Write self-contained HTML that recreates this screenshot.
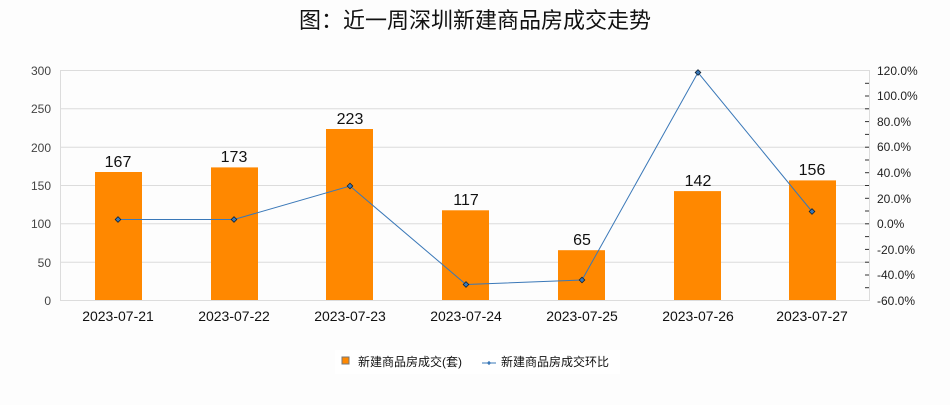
<!DOCTYPE html>
<html><head><meta charset="utf-8"><style>
body{margin:0;background:#fdfdfd;}
svg text{font-family:"Liberation Sans","Noto Sans CJK SC",sans-serif;}
</style></head><body>
<svg width="950" height="400" xmlns="http://www.w3.org/2000/svg">
<rect width="950" height="400" fill="#fdfdfd"/>
<text x="475" y="28" text-anchor="middle" font-size="22" fill="#111" style="font-family:'Noto Sans CJK SC',sans-serif">图：近一周深圳新建商品房成交走势</text>
<g stroke="#dcdcdc" stroke-width="1">
<line x1="60" y1="70.5" x2="870" y2="70.5"/>
<line x1="60" y1="108.8" x2="870" y2="108.8"/>
<line x1="60" y1="147.2" x2="870" y2="147.2"/>
<line x1="60" y1="185.5" x2="870" y2="185.5"/>
<line x1="60" y1="223.8" x2="870" y2="223.8"/>
<line x1="60" y1="262.2" x2="870" y2="262.2"/>
<line x1="60" y1="300.5" x2="870" y2="300.5"/>
<line x1="60.5" y1="70" x2="60.5" y2="300"/>
<line x1="869.5" y1="70" x2="869.5" y2="300"/>
</g>
<g font-size="12" fill="#444" text-anchor="end">
<text x="51" y="75">300</text><text x="51" y="113">250</text><text x="51" y="152">200</text>
<text x="51" y="190">150</text><text x="51" y="228">100</text><text x="51" y="267">50</text><text x="51" y="305">0</text>
</g>
<g stroke="#333" stroke-width="1">
<line x1="865" y1="83.3" x2="869" y2="83.3"/><line x1="865" y1="96" x2="869" y2="96"/>
<line x1="865" y1="108.8" x2="869" y2="108.8"/><line x1="865" y1="121.6" x2="869" y2="121.6"/>
<line x1="865" y1="134.4" x2="869" y2="134.4"/><line x1="865" y1="147.2" x2="869" y2="147.2"/>
<line x1="865" y1="160" x2="869" y2="160"/><line x1="865" y1="172.7" x2="869" y2="172.7"/>
<line x1="865" y1="185.5" x2="869" y2="185.5"/><line x1="865" y1="198.3" x2="869" y2="198.3"/>
<line x1="865" y1="211" x2="869" y2="211"/><line x1="865" y1="223.8" x2="869" y2="223.8"/>
<line x1="865" y1="236.6" x2="869" y2="236.6"/><line x1="865" y1="249.4" x2="869" y2="249.4"/>
<line x1="865" y1="262.2" x2="869" y2="262.2"/><line x1="865" y1="275" x2="869" y2="275"/>
<line x1="865" y1="287.7" x2="869" y2="287.7"/>
</g>
<g font-size="12" fill="#222" text-anchor="start">
<text x="877" y="75">120.0%</text><text x="877" y="100">100.0%</text><text x="877" y="126">80.0%</text>
<text x="877" y="151">60.0%</text><text x="877" y="177">40.0%</text><text x="877" y="203">20.0%</text>
<text x="877" y="228">0.0%</text><text x="877" y="254">-20.0%</text><text x="877" y="279">-40.0%</text><text x="877" y="305">-60.0%</text>
</g>
<g fill="#ff8800">
<rect x="95" y="172" width="47" height="128"/>
<rect x="211" y="167.4" width="47" height="132.6"/>
<rect x="326" y="129" width="47" height="171"/>
<rect x="442" y="210.3" width="47" height="89.7"/>
<rect x="558" y="250.2" width="47" height="49.8"/>
<rect x="674" y="191.1" width="47" height="108.9"/>
<rect x="789" y="180.4" width="47" height="119.6"/>
</g>
<g font-size="16" fill="#111" text-anchor="middle">
<text x="118" y="167">167</text><text x="234" y="162">173</text><text x="350" y="124">223</text>
<text x="466" y="205">117</text><text x="582" y="245">65</text><text x="698" y="186">142</text><text x="812" y="175">156</text>
</g>
<polyline fill="none" stroke="#3a78b8" stroke-width="1" points="118,219.5 234,219.5 350,186 466,284.5 582,280 698,72.5 812,211.5"/>
<g fill="#3a78b8" stroke="#123" stroke-width="0.8">
<rect x="116" y="217.5" width="4" height="4" transform="rotate(45 118 219.5)"/>
<rect x="232" y="217.5" width="4" height="4" transform="rotate(45 234 219.5)"/>
<rect x="348" y="184" width="4" height="4" transform="rotate(45 350 186)"/>
<rect x="464" y="282.5" width="4" height="4" transform="rotate(45 466 284.5)"/>
<rect x="580" y="278" width="4" height="4" transform="rotate(45 582 280)"/>
<rect x="696" y="70.5" width="4" height="4" transform="rotate(45 698 72.5)"/>
<rect x="810" y="209.5" width="4" height="4" transform="rotate(45 812 211.5)"/>
</g>
<g font-size="14" fill="#111" text-anchor="middle">
<text x="118" y="321">2023-07-21</text><text x="234" y="321">2023-07-22</text><text x="350" y="321">2023-07-23</text>
<text x="466" y="321">2023-07-24</text><text x="582" y="321">2023-07-25</text><text x="698" y="321">2023-07-26</text><text x="812" y="321">2023-07-27</text>
</g>
<rect x="335" y="350" width="285" height="24" fill="#fff"/>
<rect x="342" y="357" width="7" height="7" fill="#ff8800" stroke="#777" stroke-width="1"/>
<text x="358" y="366" font-size="12" fill="#111">新建商品房成交(套)</text>
<line x1="482" y1="363" x2="496" y2="363" stroke="#3a78b8"/>
<rect x="487.5" y="361.5" width="3" height="3" fill="#3a78b8" transform="rotate(45 489 363)"/>
<text x="501" y="366" font-size="12" fill="#111">新建商品房成交环比</text>
</svg>
</body></html>
